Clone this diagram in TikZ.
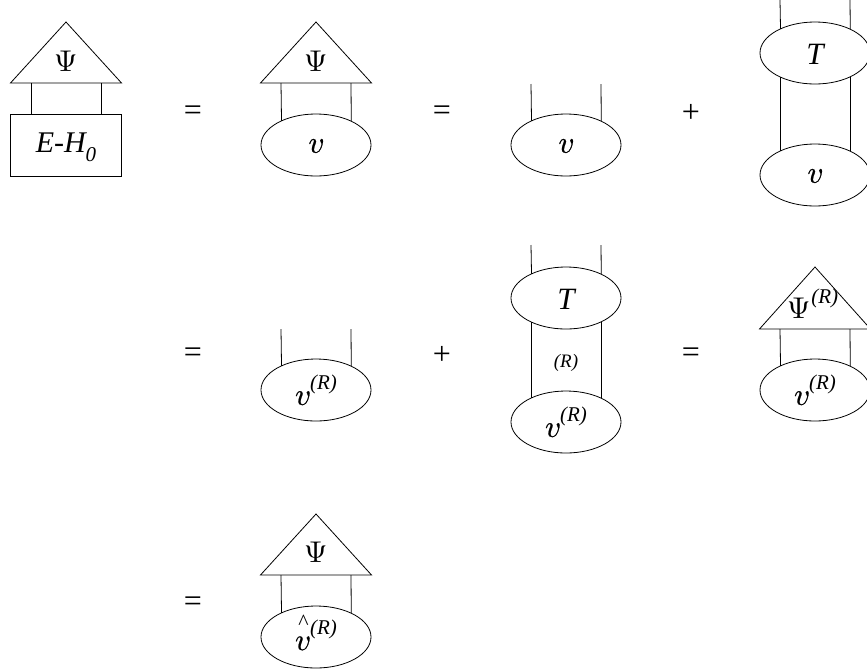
\documentclass[tikz,border=0pt]{standalone}
\usepackage{fontspec}
\setmainfont{Liberation Serif}
\newfontfamily\lmmath{latinmodern-math.otf}[FakeBold=0.7]
\newfontfamily\lmup{latinmodern-math.otf}
\usetikzlibrary{shapes.geometric}
\newcommand\supR{\raisebox{0.5em}{\fontsize{21}{21}\selectfont\itshape (R)}}
\newcommand\vv{{\lmmath\fontsize{31}{31}\selectfont 𝑣}}
\newcommand\Psii{{\lmup\fontsize{30}{30}\selectfont Ψ}}
\newcommand\vhat{\ooalign{\vv\cr\hidewidth\raisebox{0.66em}{\fontsize{22}{22}\selectfont\^{}}\hidewidth\cr}}
\begin{document}
\begin{tikzpicture}[x=1pt,y=-1pt,line width=0.8pt,
  ell/.style={draw, ellipse, minimum width=110pt, minimum height=62pt, inner sep=0pt, outer sep=0pt},
  lbl/.style={font=\fontsize{31}{32}\selectfont\itshape, inner sep=0pt},
  psi/.style={font=\fontsize{30}{32}\selectfont, inner sep=0pt},
  op/.style={font=\fontsize{32}{34}\selectfont, inner sep=0pt},
  small/.style={font=\fontsize{19}{20}\selectfont\itshape, inner sep=0pt}]
\useasboundingbox (0,0) rectangle (867,670);
% ---------------- row 1 ----------------
% diagram A
\draw (66,22) -- (121.5,83) -- (10.5,83) -- cycle;
\node[psi] (psiA) at (66,61) {\Psii};
\node[draw, minimum width=111pt, minimum height=62pt, inner sep=0pt, outer sep=0pt] (boxA) at (66,145) {};
\node[lbl, font=\fontsize{30}{32}\selectfont\itshape] (textA) at (66,147) {E-H\raisebox{-0.3em}{\fontsize{21}{21}\selectfont 0}};
\coordinate (a1) at (31,83); \coordinate (a2) at (101,83);
\draw (a1) -- (a1 |- boxA.north);
\draw (a2) -- (a2 |- boxA.north);
\node[op] (eq1) at (193,113) {=};
% diagram B
\draw (316,22) -- (371.5,83) -- (260.5,83) -- cycle;
\node[psi] (psiB) at (316,61) {\Psii};
\node[ell] (vB) at (316,145) {};
\node[lbl] (tB) at (316,146) {\vv};
\coordinate (b1) at (281,83); \coordinate (b2) at (351,83);
\draw (b1) -- (vB.145.7);
\draw (b2) -- (vB.34.3);
\node[op] (eq2) at (442,113) {=};
% diagram C
\node[ell] (vC) at (566,145) {};
\node[lbl] (tC) at (566,146) {\vv};
\coordinate (c1) at (531,84); \coordinate (c2) at (601,84);
\draw (c1) -- (vC.145.7);
\draw (c2) -- (vC.34.3);
\node[op] (plus1) at (691,113) {+};
% diagram D
\node[ell] (TD) at (815,53) {};
\node[lbl] (tTD) at (815,54) {T};
\node[ell] (vD) at (815,175) {};
\node[lbl] (tvD) at (815,176) {\vv};
\coordinate (d1) at (780,0); \coordinate (d2) at (850,0);
\draw (d1) -- (TD.145.7);
\draw (d2) -- (TD.34.3);
\draw (TD.-145.7) -- (vD.145.7);
\draw (TD.-34.3) -- (vD.34.3);
% ---------------- row 2 ----------------
\node[op] (eq3) at (193,355) {=};
\node[ell] (vE) at (316,390) {};
\node[lbl] (tE) at (316,390) {\vv\supR};
\coordinate (e1) at (281,329); \coordinate (e2) at (351,329);
\draw (e1) -- (vE.145.7);
\draw (e2) -- (vE.34.3);
\node[op] (plus2) at (442,355) {+};
\node[ell] (TF) at (566,298) {};
\node[lbl] (tTF) at (566,299) {T};
\node[ell] (vF) at (566,422) {};
\node[lbl] (tvF) at (566,422) {\vv\supR};
\coordinate (f1) at (531,245); \coordinate (f2) at (601,245);
\draw (f1) -- (TF.145.7);
\draw (f2) -- (TF.34.3);
\draw (TF.-145.7) -- (vF.145.7);
\draw (TF.-34.3) -- (vF.34.3);
\node[small] (RF) at (566,363) {(R)};
\node[op] (eq4) at (691,355) {=};
\draw (815,267) -- (870.5,329) -- (759.5,329) -- cycle;
\node[psi] (psiG) at (813,304) {\Psii\supR};
\node[ell] (vG) at (815,390) {};
\node[lbl] (tG) at (815,390) {\vv\supR};
\coordinate (g1) at (780,329); \coordinate (g2) at (850,329);
\draw (g1) -- (vG.145.7);
\draw (g2) -- (vG.34.3);
% ---------------- row 3 ----------------
\node[op] (eq5) at (193,604) {=};
\draw (316,514) -- (371.5,575) -- (260.5,575) -- cycle;
\node[psi] (psiH) at (316,552) {\Psii};
\node[ell] (vH) at (316,637) {};
\node[lbl] (tH) at (316,635) {\vhat\supR};
\coordinate (h1) at (281,575); \coordinate (h2) at (351,575);
\draw (h1) -- (vH.145.7);
\draw (h2) -- (vH.34.3);
\end{tikzpicture}
\end{document}
